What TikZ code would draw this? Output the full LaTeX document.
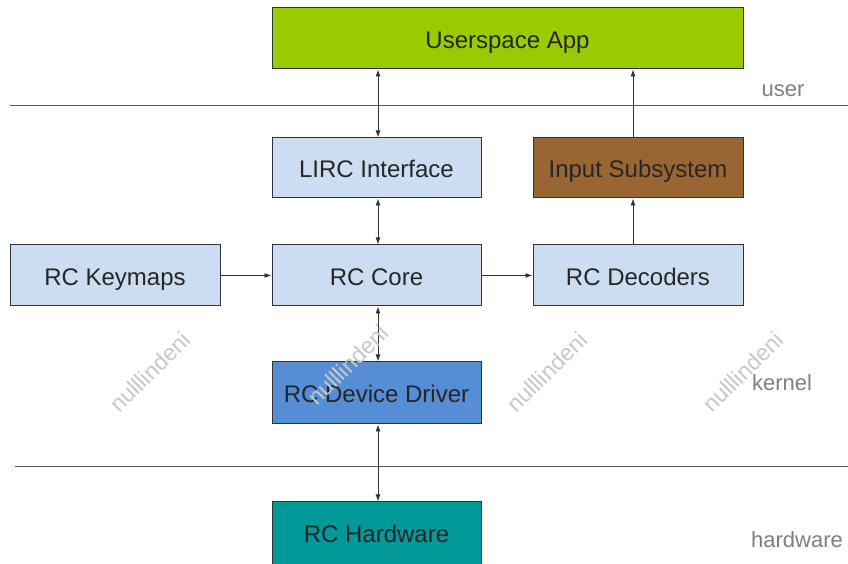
\documentclass[tikz,border=0pt]{standalone}
\usepackage{fontspec}
\setmainfont{Liberation Sans}
\usetikzlibrary{arrows.meta}
\definecolor{appgreen}{RGB}{153,204,0}
\definecolor{inbrown}{RGB}{153,102,51}
\definecolor{lightbox}{RGB}{204,221,242}
\definecolor{drvblue}{RGB}{85,142,213}
\definecolor{hwteal}{RGB}{0,153,153}
\definecolor{edge}{RGB}{50,50,50}
\definecolor{linegray}{RGB}{90,90,90}
\definecolor{labelgray}{RGB}{128,128,128}
\definecolor{wmgray}{RGB}{200,200,200}
\tikzset{
  txt/.style={font=\fontsize{24}{28}\selectfont, text=black!85, text height=20pt, text depth=0pt},
  blk/.style={txt, draw=edge, line width=1pt, inner sep=0pt},
  conn/.style={draw=edge, line width=0.9pt, -{Latex[length=7pt,width=5pt]}},
  bconn/.style={draw=edge, line width=0.9pt, {Latex[length=7pt,width=5pt]}-{Latex[length=7pt,width=5pt]}},
  sep/.style={draw=linegray, line width=1pt},
  layer/.style={font=\fontsize{22}{26}\selectfont, text=labelgray, text height=19pt, text depth=0pt},
  wm/.style={font=\fontsize{23}{26}\selectfont, text=wmgray, rotate=45}
}
\begin{document}
\begin{tikzpicture}[x=1pt,y=1pt]
\useasboundingbox (0,0) rectangle (848,564);
\fill[white] (0,0) rectangle (848,564);
% separators
\coordinate (s1a) at (10,458); \coordinate (s1b) at (848,458);
\coordinate (s2a) at (15,97); \coordinate (s2b) at (848,97);
\draw[sep] (s1a) -- (s1b);
\draw[sep] (s2a) -- (s2b);
% boxes
\node[blk, fill=appgreen, minimum width=471pt, minimum height=61pt] (app) at (507.5,525.5) {Userspace App};
\node[blk, fill=lightbox, minimum width=209pt, minimum height=60pt] (lirc) at (376.5,396) {LIRC Interface};
\node[blk, fill=inbrown, minimum width=210pt, minimum height=60pt] (input) at (638,396) {Input Subsystem};
\node[blk, fill=lightbox, minimum width=210pt, minimum height=61pt] (keymaps) at (115,288.5) {RC Keymaps};
\node[blk, fill=lightbox, minimum width=209pt, minimum height=61pt] (core) at (376.5,288.5) {RC Core};
\node[blk, fill=lightbox, minimum width=210pt, minimum height=61pt] (dec) at (638,288.5) {RC Decoders};
\node[blk, fill=drvblue, minimum width=209pt, minimum height=62pt] (drv) at (376.5,171) {RC Device Driver};
\node[blk, fill=hwteal, minimum width=209pt, minimum height=66pt] (hw) at (376.5,29) {};
\node[txt, inner sep=0pt] (hwt) at (376.5,31) {RC Hardware};
% connectors
\draw[bconn] ([xshift=1.5pt]lirc.north) -- ([xshift=1.5pt]lirc.north |- app.south);
\draw[conn] ([xshift=-5pt]input.north) -- ([xshift=-5pt]input.north |- app.south);
\draw[bconn] ([xshift=1.5pt]core.north) -- ([xshift=1.5pt]lirc.south);
\draw[conn] (keymaps.east) -- (core.west);
\draw[conn] (core.east) -- (dec.west);
\draw[conn] ([xshift=-5pt]dec.north) -- ([xshift=-5pt]input.south);
\draw[bconn] ([xshift=1.5pt]core.south) -- ([xshift=1.5pt]drv.north);
\draw[bconn] ([xshift=1.5pt]drv.south) -- ([xshift=1.5pt]hw.north);
% layer labels
\node[layer] (luser) at (783,477) {user};
\node[layer] (lkernel) at (782,183) {kernel};
\node[layer] (lhw) at (797,26) {hardware};
% watermarks
\node[wm] (wm1) at (150,192) {nulllindeni};
\node[wm] (wm2) at (348,199) {nulllindeni};
\node[wm] (wm3) at (547,192) {nulllindeni};
\node[wm] (wm4) at (743,192) {nulllindeni};
\end{tikzpicture}
\end{document}
